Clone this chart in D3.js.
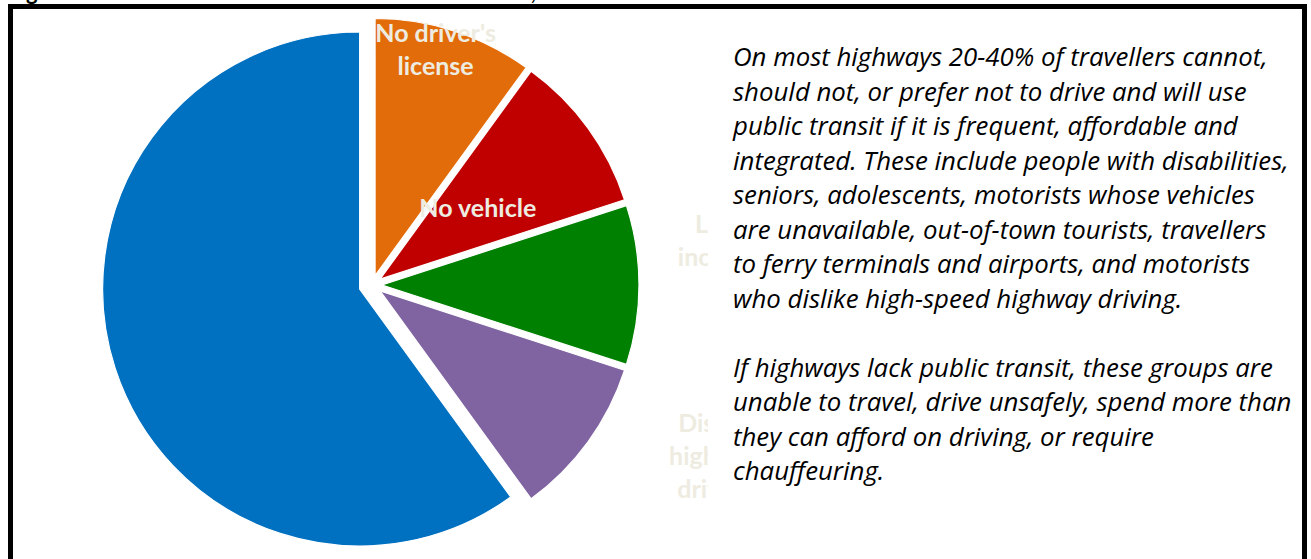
<!DOCTYPE html>
<html>
<head>
<meta charset="utf-8">
<script src="https://cdn.jsdelivr.net/npm/d3@7"></script>
<style>
  html, body { margin: 0; padding: 0; background: #fff; overflow: hidden; }
  svg { display: block; }
</style>
</head>
<body>
<svg id="chart"></svg>
<script>
// slice data (first slice starts at 12 o'clock, clockwise)
const categories = ["No driver's license", "No vehicle", "Low income", "Dislike highway driving", "Other travellers"];
const shares = [10, 10, 10, 10, 60];
const sliceLabels = [["No driver's", "license"], ["No vehicle"], ["Low", "income"], ["Dislike", "highway", "driving"], []];
const sliceColors = ["#E36C0A", "#C00000", "#008000", "#8064A2", "#0070C0"];

// note text, line by line as in the original box
const noteParagraphs = [
  ["On most highways 20-40% of travellers cannot,",
   "should not, or prefer not to drive and will use",
   "public transit if it is frequent, affordable and",
   "integrated. These include people with disabilities,",
   "seniors, adolescents, motorists whose vehicles",
   "are unavailable, out-of-town tourists, travellers",
   "to ferry terminals and airports, and motorists",
   "who dislike high-speed highway driving."],
  ["If highways lack public transit, these groups are",
   "unable to travel, drive unsafely, spend more than",
   "they can afford on driving, or require",
   "chauffeuring."]
];
const titleNumber = "Figure 1";
const titleText = ["Travellers Who Cannot,", " Should Not or Prefer Not to Drive"];

const width = 1311, height = 559;
const cx = 372, cy = 285, radius = 257;
const explode = [10, 10, 10, 10, 13];
// label placement: distance as share of radius, angle shift from bisector (deg)
const labelRadius = [0.91, 0.47, 1.32, 1.455, 0];
const labelShift = [-3, 0, -7.6, -9.8, 0];

const svg = d3.select("#chart")
  .attr("width", width)
  .attr("height", height);

const pie = d3.pie().sort(null).value(d => d);
const arc = d3.arc().innerRadius(0).outerRadius(radius);
const arcs = pie(shares);

function polar(angle, dist) {
  return [Math.sin(angle) * dist, -Math.cos(angle) * dist];
}

const pieG = svg.append("g").attr("transform", `translate(${cx},${cy})`);

// slices
pieG.selectAll("path.slice")
  .data(arcs)
  .enter()
  .append("path")
    .attr("class", "slice")
    .attr("d", arc)
    .attr("fill", (d, i) => sliceColors[i])
    .attr("stroke", "#fff")
    .attr("stroke-width", 1.2)
    .attr("transform", (d, i) => {
      const mid = (d.startAngle + d.endAngle) / 2;
      const o = polar(mid, explode[i]);
      return `translate(${o[0]},${o[1]})`;
    });

// slice labels
const labelSize = 25, lineH = 33;
arcs.forEach((d, i) => {
  const lines = sliceLabels[i];
  if (!lines.length) return;
  const mid = (d.startAngle + d.endAngle) / 2;
  const o = polar(mid, explode[i]);
  const p = polar(mid + labelShift[i] * Math.PI / 180, labelRadius[i] * radius);
  const x = o[0] + p[0], y = o[1] + p[1];
  const t = pieG.append("text")
    .attr("text-anchor", "middle")
    .attr("font-family", "Lato, 'Open Sans', sans-serif")
    .attr("font-weight", "bold")
    .attr("font-size", labelSize)
    .attr("fill", "#EEECE1");
  lines.forEach((line, k) => {
    t.append("tspan")
      .attr("x", x)
      .attr("y", y + (k - (lines.length - 1) / 2) * lineH + labelSize * 0.36)
      .text(line);
  });
});

// text box covering the right side
svg.append("rect")
  .attr("x", 708)
  .attr("y", 14)
  .attr("width", 590)
  .attr("height", height)
  .attr("fill", "#fff");

// note text
const noteX = 733, noteY = 66, noteStep = 34.5, noteWidth = 535;
const note = svg.append("text")
  .attr("font-family", "'Open Sans', 'Noto Sans', sans-serif")
  .attr("font-style", "italic")
  .attr("font-size", 20)
  .attr("fill", "#000");

let row = 0;
noteParagraphs.forEach((para, pi) => {
  if (pi > 0) row += 1;
  para.forEach(line => {
    note.append("tspan")
      .attr("x", noteX)
      .attr("y", noteY + row * noteStep)
      .text(line);
    row += 1;
  });
});
// fit the first line to the original width
const firstLen = note.select("tspan").node().getComputedTextLength();
note.attr("font-size", 20 * noteWidth / firstLen);

// frame
svg.append("rect")
  .attr("x", 10.5)
  .attr("y", 6.5)
  .attr("width", 1294)
  .attr("height", 600)
  .attr("fill", "none")
  .attr("stroke", "#000")
  .attr("stroke-width", 5);

// title above the frame, cut off by the top of the picture
svg.append("text")
  .attr("x", 8)
  .attr("y", -0.5)
  .attr("font-family", "Lato, sans-serif")
  .attr("font-weight", "bold")
  .attr("font-size", 22)
  .text(titleNumber);

const title = svg.append("text")
  .attr("y", -0.5)
  .attr("font-family", "Lato, sans-serif")
  .attr("font-weight", "bold")
  .attr("font-size", 22);
const t1 = title.append("tspan").text(titleText[0]);
title.append("tspan").text(titleText[1]);
title.attr("x", 536 - t1.node().getComputedTextLength());
</script>
</body>
</html>
